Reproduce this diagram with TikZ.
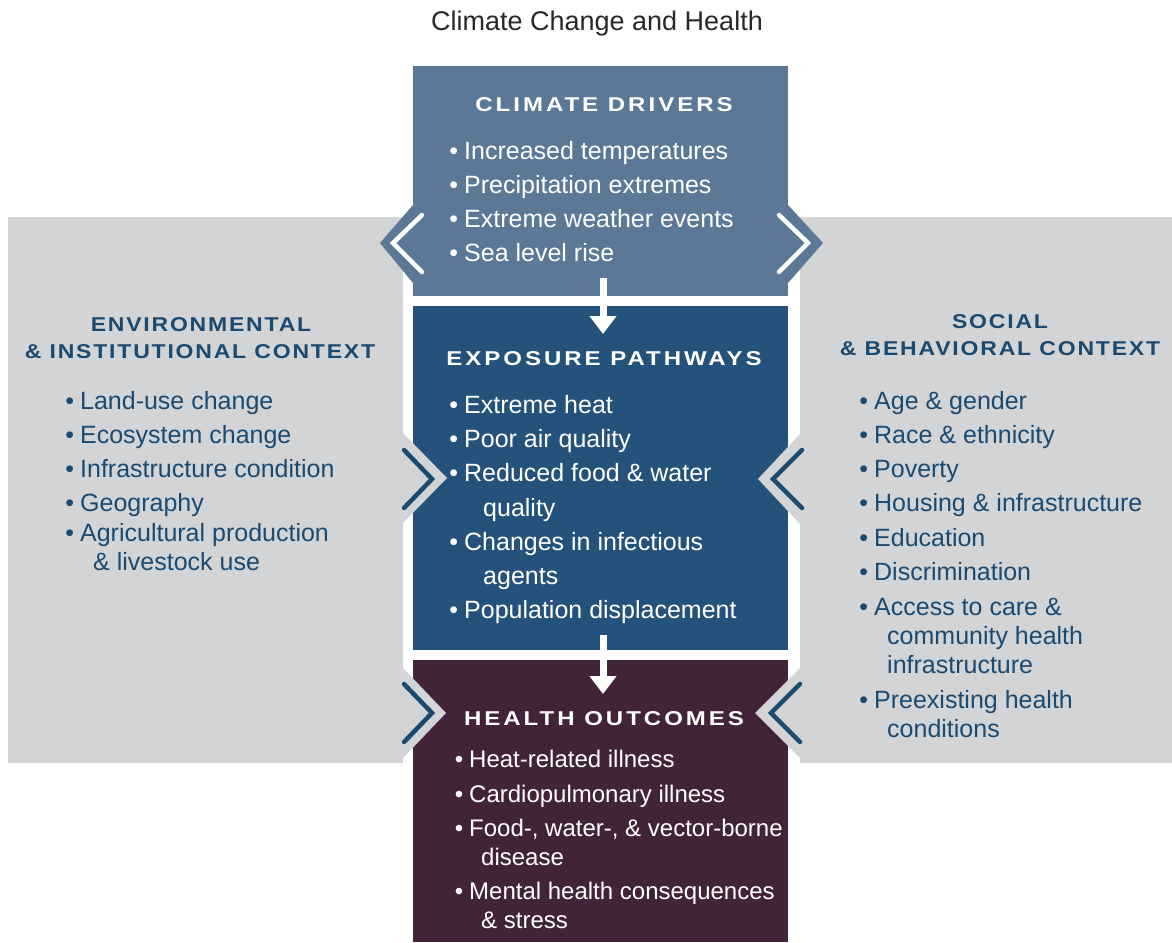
\documentclass[tikz,border=0pt]{standalone}
\usepackage{fontspec}
\setmainfont{Liberation Sans}
\newfontfamily\headfont[FakeStretch=1.2,LetterSpace=15]{Liberation Sans Bold}
\newfontfamily\panelfont[FakeStretch=1.15,LetterSpace=9]{Liberation Sans Bold}
\usetikzlibrary{arrows.meta}
\definecolor{cdrive}{RGB}{91,120,150}
\definecolor{cexpo}{RGB}{37,82,122}
\definecolor{cheal}{RGB}{66,36,58}
\definecolor{cgrey}{RGB}{211,212,214}
\definecolor{ctext}{RGB}{27,74,112}
\definecolor{ctitle}{RGB}{40,40,40}
\tikzset{
  panel/.style={fill=cgrey, draw=none},
  box/.style={draw=none, inner sep=0pt, minimum width=375pt},
  head/.style={inner sep=0pt, anchor=base, font=\headfont\fontsize{20}{22}\selectfont},
  phead/.style={inner sep=0pt, anchor=base, font=\panelfont\fontsize{20}{22}\selectfont},
  item/.style={inner sep=0pt, anchor=base west, font=\fontsize{25}{28}\selectfont},
  hitem/.style={inner sep=0pt, anchor=base west, font=\fontsize{24}{28}\selectfont},
  chevw/.style={draw=white, line width=4.5pt, line cap=round},
  chevb/.style={draw=ctext, line width=4.5pt, line cap=round},
  flow/.style={draw=white, line width=7pt, -{Triangle[width=26pt,length=18pt]}}
}
\newcommand{\bul}{\llap{\textbullet\hspace{6pt}}}
\begin{document}
\begin{tikzpicture}[x=1pt,y=-1pt]
\useasboundingbox (0,0) rectangle (1172,942);
% side panels
\fill[panel] (8,217) rectangle (403,763);
\fill[panel] (800,217) rectangle (1172,763);
% central boxes
\node[box, fill=cdrive, minimum height=230pt] (drivers) at (600.5,181) {};
\node[box, fill=cexpo, minimum height=344pt] (expo) at (600.5,478) {};
\node[box, fill=cheal, minimum height=282pt] (health) at (600.5,801) {};
% chevrons of climate drivers box
\fill[cdrive] (413,205) -- (380,243) -- (413,283) -- cycle;
\fill[cdrive] (788,205) -- (823,243) -- (788,283) -- cycle;
\draw[chevw] (422,215) -- (393,243) -- (422,272);
\draw[chevw] (779,215) -- (808,243) -- (779,272);
% grey chevrons into exposure and health
\fill[cgrey] (403,433) -- (447,478) -- (403,523) -- cycle;
\fill[cgrey] (800,434) -- (758,479) -- (800,524) -- cycle;
\fill[cgrey] (403,668) -- (446,713) -- (403,758) -- cycle;
\fill[cgrey] (800,668) -- (755,713) -- (800,758) -- cycle;
\draw[chevb] (404,450) -- (432,479) -- (404,508);
\draw[chevb] (802,450) -- (773,479) -- (802,508);
\draw[chevb] (404,684) -- (432,713) -- (404,742);
\draw[chevb] (800,684) -- (771,713) -- (800,742);
% arrows
\coordinate (a1s) at (603,278);
\coordinate (a1e) at (603,334);
\coordinate (a2s) at (603,635);
\coordinate (a2e) at (603,694);
\draw[flow] (a1s) -- (a1e);
\draw[flow] (a2s) -- (a2e);
% title
\node[inner sep=0pt, anchor=base, text=ctitle, font=\fontsize{27}{30}\selectfont] (title) at (597,31) {Climate Change and Health};
% climate drivers
\begin{scope}[every node/.append style={text=white}]
\node[head] (hd) at (604,111) {CLIMATE DRIVERS};
\node[item] (d1) at (464,159) {\bul Increased temperatures};
\node[item] (d2) at (464,193) {\bul Precipitation extremes};
\node[item] (d3) at (464,227) {\bul Extreme weather events};
\node[item] (d4) at (464,261) {\bul Sea level rise};
% exposure
\node[head] (he) at (604,365) {EXPOSURE PATHWAYS};
\node[item] (e1) at (464,413) {\bul Extreme heat};
\node[item] (e2) at (464,447) {\bul Poor air quality};
\node[item] (e3) at (464,481) {\bul Reduced food \& water};
\node[item] (e3b) at (483,516) {quality};
\node[item] (e4) at (464,550) {\bul Changes in infectious};
\node[item] (e4b) at (483,584) {agents};
\node[item] (e5) at (464,618) {\bul Population displacement};
% health
\node[head] (hh) at (604,725) {HEALTH OUTCOMES};
\node[hitem] (h1) at (469,767) {\bul Heat-related illness};
\node[hitem] (h2) at (469,802) {\bul Cardiopulmonary illness};
\node[hitem] (h3) at (469,836) {\bul Food-, water-, \& vector-borne};
\node[hitem] (h3b) at (481,865) {disease};
\node[hitem] (h4) at (469,899) {\bul Mental health consequences};
\node[hitem] (h4b) at (481,928) {\& stress};
\end{scope}
\begin{scope}[every node/.append style={text=ctext}]
% environmental
\node[phead] (hl1) at (201,331) {ENVIRONMENTAL};
\node[phead] (hl2) at (200,358) {\& INSTITUTIONAL CONTEXT};
\node[item] (l1) at (80,409) {\bul Land-use change};
\node[item] (l2) at (80,443) {\bul Ecosystem change};
\node[item] (l3) at (80,477) {\bul Infrastructure condition};
\node[item] (l4) at (80,511) {\bul Geography};
\node[item] (l5) at (80,541) {\bul Agricultural production};
\node[item] (l5b) at (93,570) {\& livestock use};
% social
\node[phead] (hr1) at (1000,328) {SOCIAL};
\node[phead] (hr2) at (1000,355) {\& BEHAVIORAL CONTEXT};
\node[item] (r1) at (874,409) {\bul Age \& gender};
\node[item] (r2) at (874,443) {\bul Race \& ethnicity};
\node[item] (r3) at (874,477) {\bul Poverty};
\node[item] (r4) at (874,511) {\bul Housing \& infrastructure};
\node[item] (r5) at (874,546) {\bul Education};
\node[item] (r6) at (874,580) {\bul Discrimination};
\node[item] (r7) at (874,615) {\bul Access to care \&};
\node[item] (r7b) at (887,644) {community health};
\node[item] (r7c) at (887,673) {infrastructure};
\node[item] (r8) at (874,708) {\bul Preexisting health};
\node[item] (r8b) at (887,737) {conditions};
\end{scope}
\end{tikzpicture}
\end{document}
